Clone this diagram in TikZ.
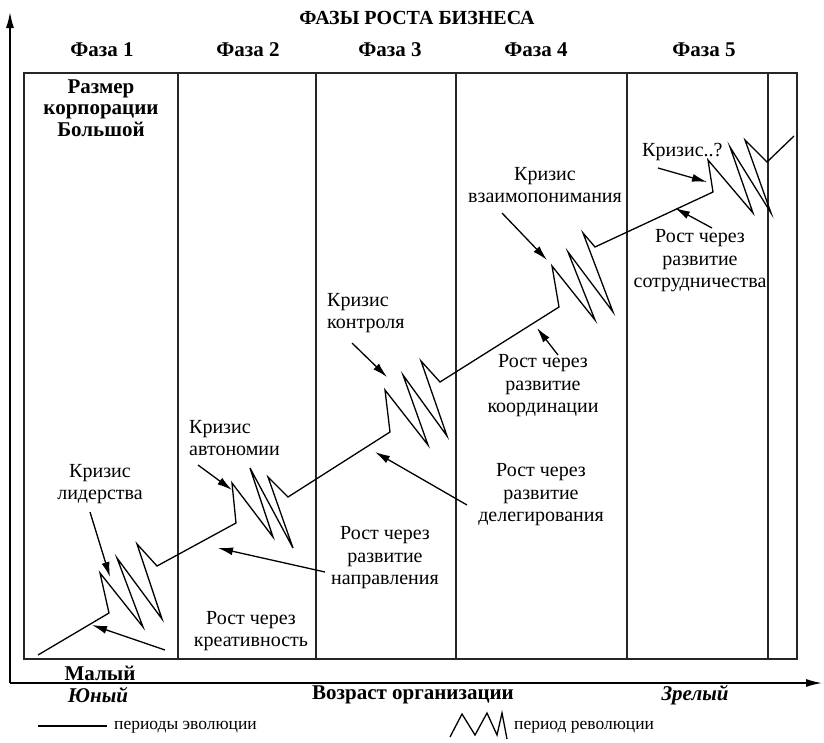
\documentclass[tikz,border=0pt]{standalone}
\usepackage{fontspec}
\setmainfont{Liberation Serif}
\usetikzlibrary{arrows.meta}
\tikzset{
  lbl/.style={font=\fontsize{20}{22.5}\selectfont, align=center, inner sep=0pt},
  lbll/.style={font=\fontsize{20}{22.5}\selectfont, align=left, inner sep=0pt},
  blbl/.style={font=\bfseries\fontsize{21}{21.5}\selectfont, align=center, inner sep=0pt},
  bilbl/.style={font=\bfseries\itshape\fontsize{21}{21.5}\selectfont, inner sep=0pt},
  leg/.style={font=\fontsize{17.5}{19}\selectfont, inner sep=0pt, anchor=west},
  frame/.style={line width=1.4pt, draw=black!85},
  curve/.style={line width=1.3pt, line join=miter},
  ptr/.style={line width=1.3pt, -{Latex[length=15pt,width=8pt]}},
  axis/.style={line width=1.5pt, -{Latex[length=16pt,width=8pt]}}
}
\begin{document}
\begin{tikzpicture}[x=1pt,y=-1pt]
\useasboundingbox (0,0) rectangle (824,742);
% axes
\coordinate (o) at (10,683);
\coordinate (ytip) at (10,12);
\coordinate (xtip) at (822,683);
\draw[axis] (o) -- (ytip);
\draw[axis] (o) -- (xtip);
% frame and phase dividers
\draw[frame] (24,73) rectangle (797,659);
\foreach \x in {178,316,456,627,768} \draw[frame] (\x,73) -- (\x,659);
% titles
\node[blbl, font=\bfseries\fontsize{20}{21}\selectfont] (title) at (417,18) {ФАЗЫ РОСТА БИЗНЕСА};
\node[blbl] (f1) at (102,50) {Фаза 1};
\node[blbl] (f2) at (248,50) {Фаза 2};
\node[blbl] (f3) at (390,50) {Фаза 3};
\node[blbl] (f4) at (536,50) {Фаза 4};
\node[blbl] (f5) at (704,50) {Фаза 5};
\node[blbl] (size) at (101,108) {Размер\\корпорации\\Большой};
\node[blbl] (small) at (100,673) {Малый};
\node[bilbl] (young) at (98,695) {Юный};
\node[blbl] (age) at (413,695) {Возраст организации};
\node[bilbl] (mature) at (695,695) {Зрелый};
% main curve
\draw[curve] (38,655) -- (109,613)
  -- (100,573) -- (143,627) -- (117,558) -- (162,619) -- (137,544) -- (157,566)
  -- (236,523)
  -- (232,483) -- (273,537) -- (250,468) -- (293,548) -- (268,477) -- (288,497)
  -- (390,432)
  -- (385,390) -- (428,445) -- (403,375) -- (447,436) -- (421,361) -- (440,382)
  -- (559,307)
  -- (552,266) -- (595,320) -- (568,252) -- (613,312) -- (583,233) -- (595,247)
  -- (713,192)
  -- (708,160) -- (753,213) -- (730,147) -- (771,213) -- (745,140) -- (767,162)
  -- (794,136);
% labels
\node[lbl] (c1) at (100,484) {Кризис\\лидерства};
\node[lbll, anchor=north west] (c2) at (189,420) {Кризис\\автономии};
\node[lbll, anchor=north west] (c3) at (327,293) {Кризис\\контроля};
\node[lbl] (c4) at (545,185) {Кризис\\взаимопонимания};
\node[lbl, anchor=west] (c5) at (642,152) {Кризис..?};
\node[lbl] (g1) at (251,631) {Рост через\\креативность};
\node[lbl] (g2) at (385,558) {Рост через\\развитие\\направления};
\node[lbl] (g3) at (541,495) {Рост через\\развитие\\делегирования};
\node[lbl] (g4) at (543,386) {Рост через\\развитие\\координации};
\node[lbl] (g5) at (700,261) {Рост через\\развитие\\сотрудничества};
% arrows
\coordinate (a1t) at (90,512);  \coordinate (a1h) at (110,577);
\coordinate (a2t) at (165,650); \coordinate (a2h) at (92,625);
\coordinate (a3t) at (198,465); \coordinate (a3h) at (232,490);
\coordinate (a4t) at (325,572); \coordinate (a4h) at (218,548);
\coordinate (a5t) at (352,343); \coordinate (a5h) at (387,377);
\coordinate (a6t) at (467,505); \coordinate (a6h) at (375,452);
\coordinate (a7t) at (502,213); \coordinate (a7h) at (547,260);
\coordinate (a8t) at (558,355); \coordinate (a8h) at (537,328);
\coordinate (a9t) at (658,168); \coordinate (a9h) at (707,182);
\coordinate (a10t) at (712,228); \coordinate (a10h) at (675,208);
\foreach \i in {1,...,10} \draw[ptr] (a\i t) -- (a\i h);
% legend
\coordinate (l1a) at (38,726); \coordinate (l1b) at (107,726);
\draw[line width=1.3pt] (l1a) -- (l1b);
\node[leg] (evo) at (114,727) {периоды эволюции};
\draw[curve] (450,737) -- (462,714) -- (475,735) -- (487,713) -- (497,735) -- (502,713) -- (507,739);
\node[leg] (rev) at (514,727) {период революции};
\end{tikzpicture}
\end{document}
